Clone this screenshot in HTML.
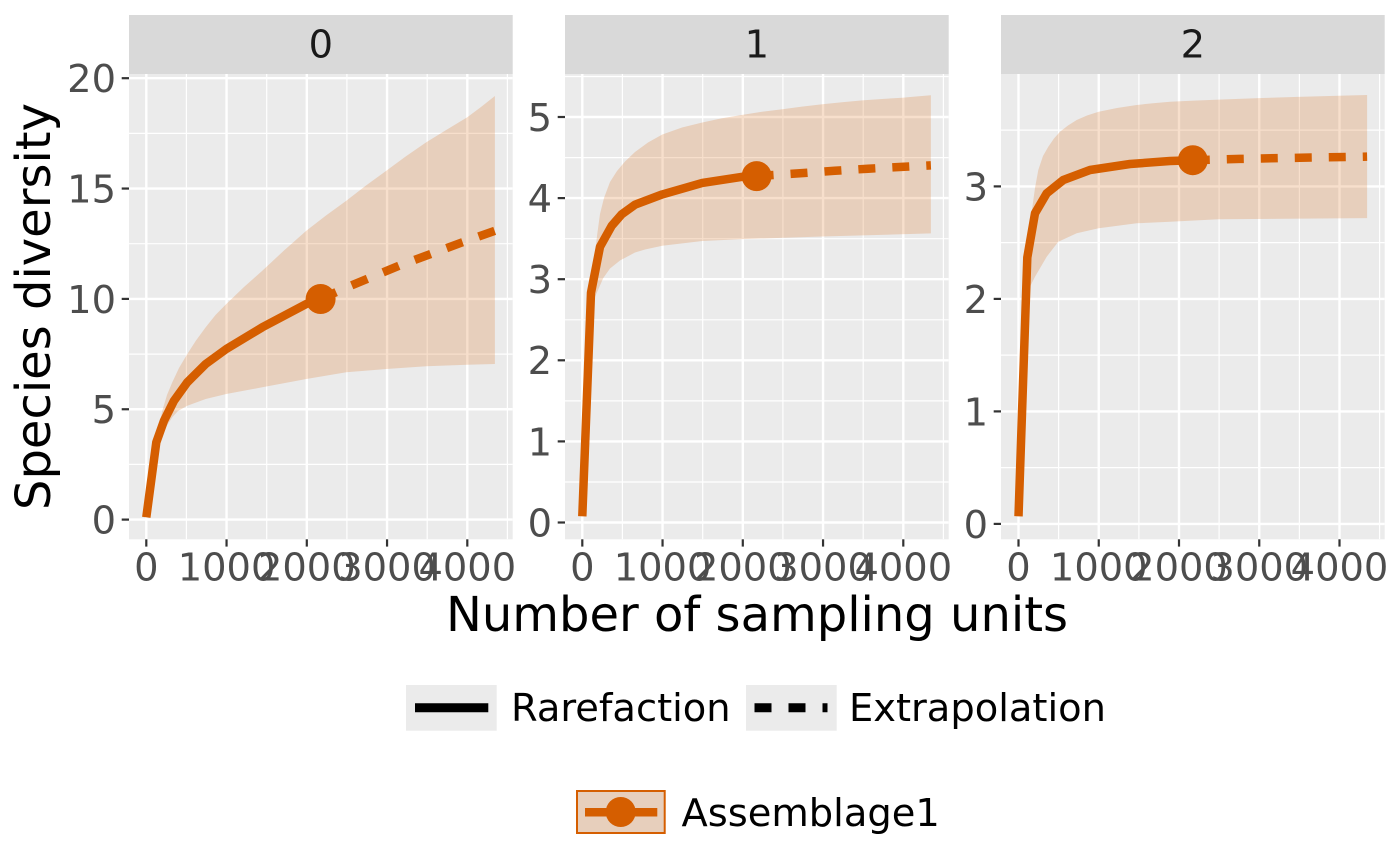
<!DOCTYPE html>
<html>
<head>
<meta charset="utf-8">
<style>
html,body{margin:0;padding:0;background:#fff;}
svg{display:block;}
text{font-family:"DejaVu Sans","Liberation Sans",sans-serif;}
.tl{font-size:38.4px;fill:#4D4D4D;}
.st{font-size:38.4px;fill:#1A1A1A;}
.lg{font-size:38.4px;fill:#000;}
.ti{font-size:48px;fill:#000;}
.gM{stroke:#fff;stroke-width:2.4;}
.gm{stroke:#fff;stroke-width:1.2;}
.tk{stroke:#333;stroke-width:2.2;}
.band{fill:#D55E00;fill-opacity:0.2;stroke:none;}
.cv{fill:none;stroke:#D55E00;stroke-width:8.5;stroke-linejoin:round;stroke-linecap:butt;}
.dv{fill:none;stroke:#D55E00;stroke-width:8.5;stroke-dasharray:17 17;stroke-linejoin:round;stroke-linecap:butt;}
</style>
</head>
<body>
<svg width="1400" height="865" viewBox="0 0 1400 865" xmlns="http://www.w3.org/2000/svg">
<defs>
<clipPath id="c0"><rect x="129" y="74" width="383.7" height="465.3"/></clipPath>
<clipPath id="c1"><rect x="565" y="74" width="383.7" height="465.3"/></clipPath>
<clipPath id="c2"><rect x="1001" y="74" width="383.7" height="465.3"/></clipPath>
</defs>
<rect x="0" y="0" width="1400" height="865" fill="#fff"/>

<!-- ============ PANEL 0 ============ -->
<rect x="129" y="15" width="383.7" height="59" fill="#D9D9D9"/>
<text class="st" x="320.85" y="57.5" text-anchor="middle">0</text>
<rect x="129" y="74" width="383.7" height="465.3" fill="#EBEBEB"/>
<g clip-path="url(#c0)">
<g class="gm">
<line x1="129" x2="512.7" y1="464.4" y2="464.4"/><line x1="129" x2="512.7" y1="354.1" y2="354.1"/>
<line x1="129" x2="512.7" y1="243.7" y2="243.7"/><line x1="129" x2="512.7" y1="133.4" y2="133.4"/>
<line x1="186.4" x2="186.4" y1="74" y2="539.3"/><line x1="266.7" x2="266.7" y1="74" y2="539.3"/>
<line x1="346.9" x2="346.9" y1="74" y2="539.3"/><line x1="427.2" x2="427.2" y1="74" y2="539.3"/>
<line x1="507.4" x2="507.4" y1="74" y2="539.3"/>
</g>
<g class="gM">
<line x1="129" x2="512.7" y1="519.6" y2="519.6"/><line x1="129" x2="512.7" y1="409.25" y2="409.25"/>
<line x1="129" x2="512.7" y1="298.9" y2="298.9"/><line x1="129" x2="512.7" y1="188.55" y2="188.55"/>
<line x1="129" x2="512.7" y1="78.2" y2="78.2"/>
<line x1="146.3" x2="146.3" y1="74" y2="539.3"/><line x1="226.55" x2="226.55" y1="74" y2="539.3"/>
<line x1="306.8" x2="306.8" y1="74" y2="539.3"/><line x1="387.05" x2="387.05" y1="74" y2="539.3"/>
<line x1="467.3" x2="467.3" y1="74" y2="539.3"/>
</g>
<polygon class="band" points="146.3,517.3 156.3,439 162.3,410.7 167,395 172.3,382.3 179,368 187.3,354 196,340.5 205.7,327.3 215.5,315 226.3,304 244,287 262.3,270.7 284,250.5 306.3,230.7 326,215.5 346.3,200.7 366,185.5 386.3,170.7 406,156.3 426.3,142.3 447,129.5 467.3,117.3 481,107 494.9,96 494.9,364 467.3,364.7 426.3,366.3 386.3,369 346.3,372.3 306.3,379 262.3,387.3 226.3,394 205.7,399 187.3,405.7 178,411 172.3,417.3 167,425.5 162.3,435.7 156.3,445.7"/>
<polyline class="cv" points="146.3,517.3 156.3,442.3 164,420.7 174,400.7 187.3,382.3 205.7,364 226.3,349 262.3,327.3 306.3,304 320.6,299"/>
<polyline class="dv" points="320.6,299 350.7,285.7 399,265.7 430.7,254 462.3,242.3 494.9,230.8"/>
<circle cx="320.6" cy="299" r="15" fill="#D55E00"/>
</g>
<g class="tk">
<line x1="121.7" x2="129" y1="519.6" y2="519.6"/><line x1="121.7" x2="129" y1="409.25" y2="409.25"/>
<line x1="121.7" x2="129" y1="298.9" y2="298.9"/><line x1="121.7" x2="129" y1="188.55" y2="188.55"/>
<line x1="121.7" x2="129" y1="78.2" y2="78.2"/>
<line x1="146.3" x2="146.3" y1="539.3" y2="546.6"/><line x1="226.55" x2="226.55" y1="539.3" y2="546.6"/>
<line x1="306.8" x2="306.8" y1="539.3" y2="546.6"/><line x1="387.05" x2="387.05" y1="539.3" y2="546.6"/>
<line x1="467.3" x2="467.3" y1="539.3" y2="546.6"/>
</g>
<g class="tl" text-anchor="end">
<text x="116" y="533.5">0</text><text x="116" y="423.15">5</text><text x="116" y="312.8">10</text>
<text x="116" y="202.45">15</text><text x="116" y="92.1">20</text>
</g>
<g class="tl" text-anchor="middle">
<text x="146.3" y="580.5">0</text><text x="226.55" y="580.5">1000</text><text x="306.8" y="580.5">2000</text>
<text x="387.05" y="580.5">3000</text><text x="467.3" y="580.5">4000</text>
</g>

<!-- ============ PANEL 1 ============ -->
<rect x="565" y="15" width="383.7" height="59" fill="#D9D9D9"/>
<text class="st" x="756.85" y="57.5" text-anchor="middle">1</text>
<rect x="565" y="74" width="383.7" height="465.3" fill="#EBEBEB"/>
<g clip-path="url(#c1)">
<g class="gm">
<line x1="565" x2="948.7" y1="482" y2="482"/><line x1="565" x2="948.7" y1="400.9" y2="400.9"/>
<line x1="565" x2="948.7" y1="319.8" y2="319.8"/><line x1="565" x2="948.7" y1="238.7" y2="238.7"/>
<line x1="565" x2="948.7" y1="157.6" y2="157.6"/><line x1="565" x2="948.7" y1="76.5" y2="76.5"/>
<line x1="622.4" x2="622.4" y1="74" y2="539.3"/><line x1="702.7" x2="702.7" y1="74" y2="539.3"/>
<line x1="782.9" x2="782.9" y1="74" y2="539.3"/><line x1="863.2" x2="863.2" y1="74" y2="539.3"/>
<line x1="943.4" x2="943.4" y1="74" y2="539.3"/>
</g>
<g class="gM">
<line x1="565" x2="948.7" y1="522.5" y2="522.5"/><line x1="565" x2="948.7" y1="441.4" y2="441.4"/>
<line x1="565" x2="948.7" y1="360.3" y2="360.3"/><line x1="565" x2="948.7" y1="279.2" y2="279.2"/>
<line x1="565" x2="948.7" y1="198.1" y2="198.1"/><line x1="565" x2="948.7" y1="117" y2="117"/>
<line x1="582.3" x2="582.3" y1="74" y2="539.3"/><line x1="662.55" x2="662.55" y1="74" y2="539.3"/>
<line x1="742.8" x2="742.8" y1="74" y2="539.3"/><line x1="823.05" x2="823.05" y1="74" y2="539.3"/>
<line x1="903.3" x2="903.3" y1="74" y2="539.3"/>
</g>
<polygon class="band" points="582.3,516.3 591,290 594,262 597,236 600,214 604,198 610,182 617,171 625,161.5 635,152 648,142.5 662.3,134.5 682,127.5 702.3,122.5 722,118.3 742.3,114.9 762,111.8 782.3,109.2 802,106.6 822.3,104.2 842,102.2 862.3,100.4 882,99 902.3,97.7 916,96.5 930.9,95.3 930.9,233.4 822.3,236.5 742.3,239.1 702.3,241 662.3,245.8 645,249.5 635,252.5 620,260.5 610,268.5 603.3,278 596.7,293 591,306"/>
<polyline class="cv" points="582.3,516.3 591,292.7 600,246.8 611.7,225.8 621.7,214.3 635,204.7 662.3,194.4 702.3,182.9 742.3,176.8 756.6,176.1"/>
<polyline class="dv" points="756.6,176.1 800,173.3 834.7,170.8 868,168.7 901.7,166.9 930.9,165.4"/>
<circle cx="756.6" cy="176.1" r="15" fill="#D55E00"/>
</g>
<g class="tk">
<line x1="557.7" x2="565" y1="522.5" y2="522.5"/><line x1="557.7" x2="565" y1="441.4" y2="441.4"/>
<line x1="557.7" x2="565" y1="360.3" y2="360.3"/><line x1="557.7" x2="565" y1="279.2" y2="279.2"/>
<line x1="557.7" x2="565" y1="198.1" y2="198.1"/><line x1="557.7" x2="565" y1="117" y2="117"/>
<line x1="582.3" x2="582.3" y1="539.3" y2="546.6"/><line x1="662.55" x2="662.55" y1="539.3" y2="546.6"/>
<line x1="742.8" x2="742.8" y1="539.3" y2="546.6"/><line x1="823.05" x2="823.05" y1="539.3" y2="546.6"/>
<line x1="903.3" x2="903.3" y1="539.3" y2="546.6"/>
</g>
<g class="tl" text-anchor="end">
<text x="552" y="536.4">0</text><text x="552" y="455.3">1</text><text x="552" y="374.2">2</text>
<text x="552" y="293.1">3</text><text x="552" y="212">4</text><text x="552" y="130.9">5</text>
</g>
<g class="tl" text-anchor="middle">
<text x="582.3" y="580.5">0</text><text x="662.55" y="580.5">1000</text><text x="742.8" y="580.5">2000</text>
<text x="823.05" y="580.5">3000</text><text x="903.3" y="580.5">4000</text>
</g>

<!-- ============ PANEL 2 ============ -->
<rect x="1001" y="15" width="383.7" height="59" fill="#D9D9D9"/>
<text class="st" x="1192.85" y="57.5" text-anchor="middle">2</text>
<rect x="1001" y="74" width="383.7" height="465.3" fill="#EBEBEB"/>
<g clip-path="url(#c2)">
<g class="gm">
<line x1="1001" x2="1384.7" y1="467.65" y2="467.65"/><line x1="1001" x2="1384.7" y1="355.15" y2="355.15"/>
<line x1="1001" x2="1384.7" y1="242.65" y2="242.65"/><line x1="1001" x2="1384.7" y1="130.15" y2="130.15"/>
<line x1="1058.6" x2="1058.6" y1="74" y2="539.3"/><line x1="1138.9" x2="1138.9" y1="74" y2="539.3"/>
<line x1="1219.1" x2="1219.1" y1="74" y2="539.3"/><line x1="1299.4" x2="1299.4" y1="74" y2="539.3"/>
<line x1="1379.6" x2="1379.6" y1="74" y2="539.3"/>
</g>
<g class="gM">
<line x1="1001" x2="1384.7" y1="523.9" y2="523.9"/><line x1="1001" x2="1384.7" y1="411.4" y2="411.4"/>
<line x1="1001" x2="1384.7" y1="298.9" y2="298.9"/><line x1="1001" x2="1384.7" y1="186.4" y2="186.4"/>
<line x1="1018.5" x2="1018.5" y1="74" y2="539.3"/><line x1="1098.75" x2="1098.75" y1="74" y2="539.3"/>
<line x1="1179" x2="1179" y1="74" y2="539.3"/><line x1="1259.25" x2="1259.25" y1="74" y2="539.3"/>
<line x1="1339.5" x2="1339.5" y1="74" y2="539.3"/>
</g>
<polygon class="band" points="1018.5,516.3 1027.3,236 1031.7,212 1035,188 1038.3,170 1043,156 1048.3,146.7 1054,138.5 1060,131.7 1068,125.5 1076.7,120 1087,115.5 1098.7,111.7 1117,108 1136.7,105 1153,103.2 1170,101.7 1194,100.6 1218.7,99.6 1258.7,98.1 1298,96.9 1338.7,95.8 1367.1,95 1367.1,218.1 1218.7,219.3 1170,221.7 1136.7,223.3 1098.7,228.3 1076.7,233.3 1058.3,241.7 1046.7,256.7 1035,276.7 1027.3,292"/>
<polyline class="cv" points="1018.5,516.3 1027.3,257.5 1035,213.3 1046.7,193.3 1063.3,180 1090,170 1130,164 1170,161 1192.8,160.2"/>
<polyline class="dv" points="1192.8,160.2 1240,158.9 1280,158.1 1315,157.5 1350,157 1367.1,156.6"/>
<circle cx="1192.8" cy="160.2" r="15" fill="#D55E00"/>
</g>
<g class="tk">
<line x1="993.7" x2="1001" y1="523.9" y2="523.9"/><line x1="993.7" x2="1001" y1="411.4" y2="411.4"/>
<line x1="993.7" x2="1001" y1="298.9" y2="298.9"/><line x1="993.7" x2="1001" y1="186.4" y2="186.4"/>
<line x1="1018.5" x2="1018.5" y1="539.3" y2="546.6"/><line x1="1098.75" x2="1098.75" y1="539.3" y2="546.6"/>
<line x1="1179" x2="1179" y1="539.3" y2="546.6"/><line x1="1259.25" x2="1259.25" y1="539.3" y2="546.6"/>
<line x1="1339.5" x2="1339.5" y1="539.3" y2="546.6"/>
</g>
<g class="tl" text-anchor="end">
<text x="988" y="537.8">0</text><text x="988" y="425.3">1</text><text x="988" y="312.8">2</text>
<text x="988" y="200.3">3</text>
</g>
<g class="tl" text-anchor="middle">
<text x="1018.5" y="580.5">0</text><text x="1098.75" y="580.5">1000</text><text x="1179" y="580.5">2000</text>
<text x="1259.25" y="580.5">3000</text><text x="1339.5" y="580.5">4000</text>
</g>

<!-- ============ AXIS TITLES ============ -->
<text class="ti" x="757" y="631" text-anchor="middle">Number of sampling units</text>
<text class="ti" transform="translate(50,306.5) rotate(-90)" text-anchor="middle">Species diversity</text>

<!-- ============ LEGEND 1 ============ -->
<rect x="406" y="685" width="90.7" height="45.7" fill="#EBEBEB"/>
<line x1="415" x2="488.3" y1="707.8" y2="707.8" stroke="#000" stroke-width="9"/>
<text class="lg" x="511" y="721">Rarefaction</text>
<rect x="746" y="685" width="90.7" height="45.7" fill="#EBEBEB"/>
<line x1="754.5" x2="827.5" y1="707.8" y2="707.8" stroke="#000" stroke-width="9" stroke-dasharray="17 17"/>
<text class="lg" x="849" y="721">Extrapolation</text>

<!-- ============ LEGEND 2 ============ -->
<rect x="577" y="791" width="87.7" height="42" fill="#EBEBEB"/>
<rect x="577" y="791" width="87.7" height="42" fill="#D55E00" fill-opacity="0.2" stroke="#D55E00" stroke-width="2"/>
<line x1="585" x2="657.3" y1="812.3" y2="812.3" stroke="#D55E00" stroke-width="8.5"/>
<circle cx="620.7" cy="812" r="15" fill="#D55E00"/>
<text class="lg" x="681.5" y="826">Assemblage1</text>
</svg>
</body>
</html>
